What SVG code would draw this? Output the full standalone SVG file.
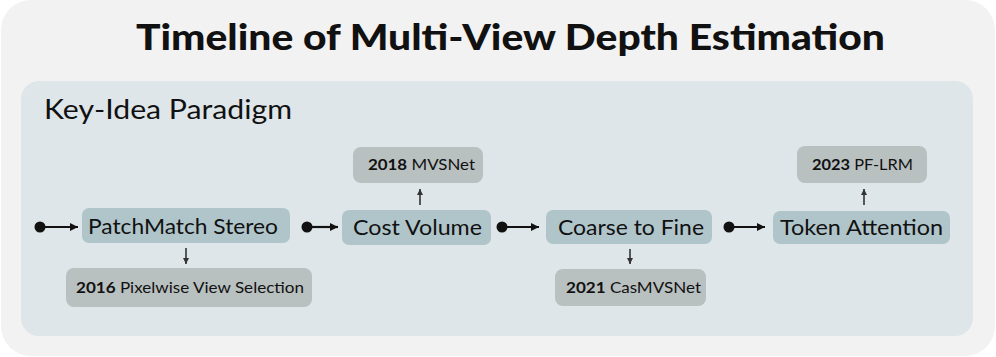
<svg xmlns="http://www.w3.org/2000/svg" width="996" height="357" viewBox="0 0 996 357">
<defs>
<style>
.t{font-family:Lato,"Open Sans","Liberation Sans",sans-serif;fill:#111}
.title{font-size:36px;font-weight:900}
.sec{font-size:26px}
.main{font-size:21px;text-anchor:middle}
.sub{font-size:15px;text-anchor:middle}
.mn{fill:#b0c5ca}
.sb{fill:#b9c0c0}
.flow{stroke:#111;stroke-width:2.2;fill:none}
.vert{stroke:#333;stroke-width:1.6;fill:none}
</style>
<marker id="ah" markerUnits="userSpaceOnUse" markerWidth="10" markerHeight="10" refX="8" refY="5" orient="auto">
<path d="M0,1 L8,5 L0,9 Z" fill="#111"/>
</marker>
<marker id="ahs" markerUnits="userSpaceOnUse" markerWidth="8" markerHeight="8" refX="6" refY="4" orient="auto">
<path d="M0,1 L6,4 L0,7 Z" fill="#333"/>
</marker>
</defs>
<rect x="1" y="0" width="994" height="356" rx="30" fill="#f2f2f2"/>
<text class="t title" x="510.5" y="50" text-anchor="middle" textLength="749" lengthAdjust="spacingAndGlyphs">Timeline of Multi-View Depth Estimation</text>
<g id="panel">
<rect x="21" y="81" width="952" height="255" rx="18" fill="#dee6e9"/>
<text class="t sec" x="44" y="119" textLength="248" lengthAdjust="spacingAndGlyphs">Key-Idea Paradigm</text>
</g>
<g id="patchmatch"><rect class="mn" x="82" y="208" width="208" height="35" rx="7"/><text class="t main" x="183" y="234" textLength="190" lengthAdjust="spacingAndGlyphs">PatchMatch Stereo</text></g>
<g id="pixelwise"><rect class="sb" x="66" y="268" width="246" height="39" rx="8"/><text class="t sub" x="190" y="293" textLength="228" lengthAdjust="spacingAndGlyphs"><tspan font-weight="bold">2016</tspan> Pixelwise View Selection</text></g>
<g id="costvolume"><rect class="mn" x="342" y="210" width="149" height="35" rx="7"/><text class="t main" x="417.5" y="235" textLength="129" lengthAdjust="spacingAndGlyphs">Cost Volume</text></g>
<g id="mvsnet"><rect class="sb" x="353" y="147" width="130" height="36" rx="8"/><text class="t sub" x="421.5" y="170" textLength="107" lengthAdjust="spacingAndGlyphs"><tspan font-weight="bold">2018</tspan> MVSNet</text></g>
<g id="coarsetofine"><rect class="mn" x="546" y="210" width="166" height="34" rx="7"/><text class="t main" x="631" y="235" textLength="146" lengthAdjust="spacingAndGlyphs">Coarse to Fine</text></g>
<g id="casmvsnet"><rect class="sb" x="555" y="269" width="151" height="37" rx="8"/><text class="t sub" x="633.5" y="293" textLength="135" lengthAdjust="spacingAndGlyphs"><tspan font-weight="bold">2021</tspan> CasMVSNet</text></g>
<g id="token"><rect class="mn" x="773" y="211" width="177" height="33" rx="7"/><text class="t main" x="861.5" y="235" textLength="163" lengthAdjust="spacingAndGlyphs">Token Attention</text></g>
<g id="pflrm"><rect class="sb" x="797" y="146" width="130" height="37" rx="8"/><text class="t sub" x="862.5" y="170" textLength="101" lengthAdjust="spacingAndGlyphs"><tspan font-weight="bold">2023</tspan> PF-LRM</text></g>
<g id="connectors">
<circle cx="40" cy="227" r="5.5" fill="#111"/><line class="flow" x1="40" y1="227" x2="78" y2="227" marker-end="url(#ah)"/>
<circle cx="307" cy="227" r="5.5" fill="#111"/><line class="flow" x1="307" y1="227" x2="338" y2="227" marker-end="url(#ah)"/>
<circle cx="502" cy="227" r="5.5" fill="#111"/><line class="flow" x1="502" y1="227" x2="539" y2="227" marker-end="url(#ah)"/>
<circle cx="729" cy="227" r="5.5" fill="#111"/><line class="flow" x1="729" y1="227" x2="765" y2="227" marker-end="url(#ah)"/>
<line class="vert" x1="186" y1="248" x2="186" y2="264" marker-end="url(#ahs)"/>
<line class="vert" x1="420" y1="205" x2="420" y2="189" marker-end="url(#ahs)"/>
<line class="vert" x1="630" y1="249" x2="630" y2="264" marker-end="url(#ahs)"/>
<line class="vert" x1="864" y1="205" x2="864" y2="189" marker-end="url(#ahs)"/>
</g>
</svg>
